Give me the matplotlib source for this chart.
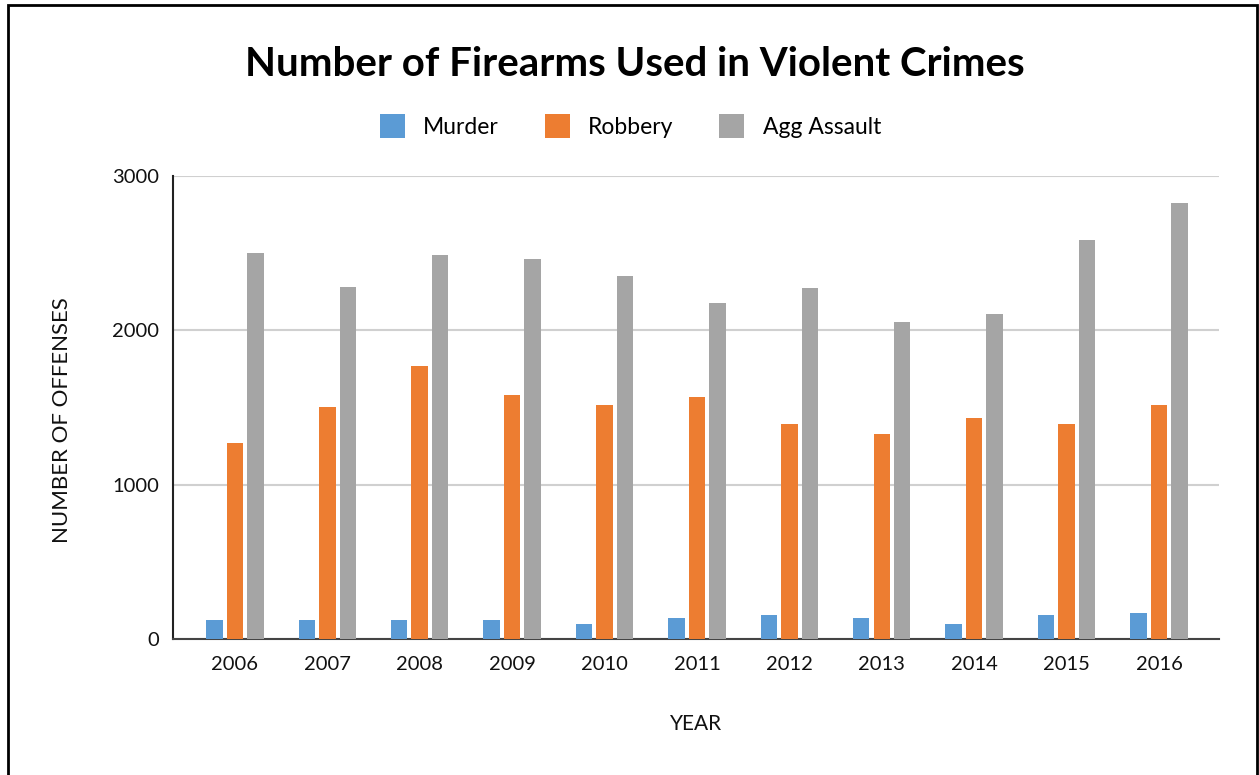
import matplotlib
matplotlib.use("Agg")
import matplotlib.pyplot as plt
import numpy as np
from matplotlib.patches import Patch, Rectangle

years = ["2006", "2007", "2008", "2009", "2010", "2011", "2012", "2013", "2014", "2015", "2016"]
murder = [123, 123, 123, 123, 97, 136, 153, 136, 97, 153, 166]
robbery = [1272, 1502, 1771, 1583, 1514, 1570, 1393, 1326, 1434, 1393, 1514]
agg_assault = [2500, 2283, 2487, 2461, 2353, 2175, 2273, 2054, 2108, 2584, 2824]
series_names = ["Murder", "Robbery", "Agg Assault"]
colors = ["#5B9BD5", "#ED7D31", "#A5A5A5"]

plt.rcParams['font.family'] = ['Lato', 'DejaVu Sans']

fig = plt.figure(figsize=(12.59, 7.75), dpi=100)
ax = fig.add_axes([173/1259, 1-639/775, (1219-173)/1259, (639-176)/775])

x = np.arange(len(years))
step = 0.222
width = 0.178
for i, (vals, c) in enumerate(zip([murder, robbery, agg_assault], colors)):
    ax.bar(x + (i-1)*step, vals, width=width, color=c, zorder=3, linewidth=0)

ax.set_xlim(-0.67, 10.65)
ax.set_ylim(0, 3000)
ax.set_yticks([0, 1000, 2000, 3000])
ax.set_xticks(x)
ax.set_xticklabels(years)
ax.yaxis.grid(True, color="#D0D0D0", linewidth=1.5, zorder=0)
ax.set_axisbelow(True)
for s in ["top", "right"]:
    ax.spines[s].set_visible(False)
ax.spines["left"].set_color("#222222")
ax.spines["left"].set_linewidth(1.5)
ax.spines["bottom"].set_color("#444444")
ax.spines["bottom"].set_linewidth(1.5)
ax.tick_params(axis="both", length=0, labelsize=14.5, colors="#111111", pad=12)
ax.tick_params(axis="y", pad=10)

ax.set_ylabel("NUMBER OF OFFENSES", fontsize=16, color="#111111", va="center")
ax.yaxis.set_label_coords(-0.106, 0.473)
ax.set_xlabel("YEAR", fontsize=15, labelpad=30, color="#111111")

fig.text(0.5045, 1-65/775, "Number of Firearms Used in Violent Crimes", ha="center", va="center",
         fontsize=29, fontweight="bold", color="#000000")

handles = [Patch(facecolor=c, edgecolor="none", label=n) for n, c in zip(series_names, colors)]
fig.legend(handles=handles, loc="center", bbox_to_anchor=(0.5008, 1-126/775), ncol=3,
           frameon=False, fontsize=16.5, handlelength=1.09, handleheight=1.3,
           columnspacing=2.0, handletextpad=0.8)

fig.patches.append(Rectangle((8/1259, -0.01), (1257-8)/1259, 770/775 + 0.01,
                             transform=fig.transFigure, fill=False, edgecolor="black", linewidth=2))

fig.savefig("out.png", dpi=100)
